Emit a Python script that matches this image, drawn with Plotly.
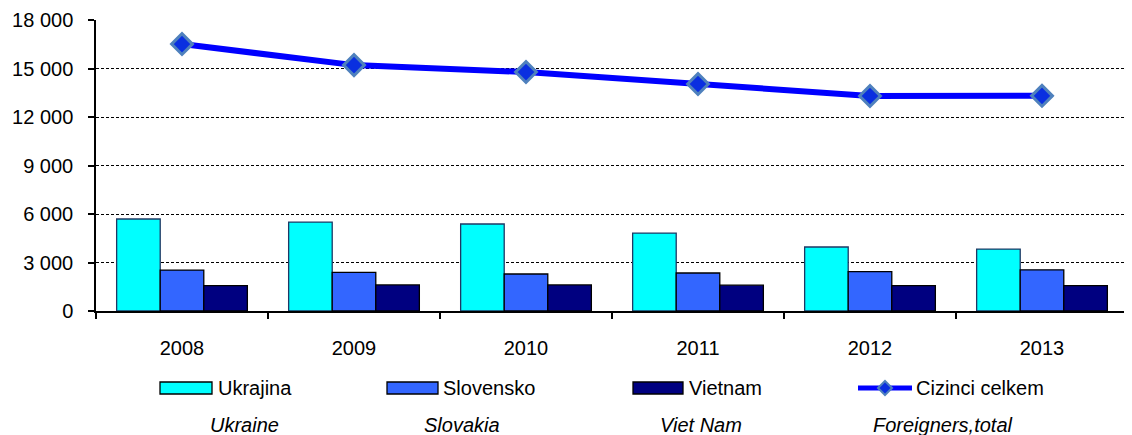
import plotly.graph_objects as go

years = ["2008", "2009", "2010", "2011", "2012", "2013"]
ukrajina = [5690, 5500, 5380, 4820, 3960, 3830]
slovensko = [2530, 2390, 2290, 2350, 2430, 2550]
vietnam = [1570, 1610, 1610, 1600, 1570, 1570]
cizinci = [16510, 15210, 14780, 14040, 13300, 13310]

names_cz = ["Ukrajina", "Slovensko", "Vietnam", "Cizinci celkem"]
names_en = ["Ukraine", "Slovakia", "Viet Nam", "Foreigners,total"]
bar_colors = ["#00FFFF", "#3366FF", "#000080"]

# page is offset by the browser's default 8px body margin
OFF = 8
W, H = 1132 - OFF, 435 - OFF
PLOT_L, PLOT_R, PLOT_T, PLOT_B = 96, 1128, 20, 311  # page pixels of plot area
L, R = PLOT_L - OFF, W - (PLOT_R - OFF)
T, B = PLOT_T - OFF, H - (PLOT_B - OFF)
PW, PH = W - L - R, H - T - B
FONT = "Arial, Liberation Sans, sans-serif"
FS = 20


def px(x):
    return (x - PLOT_L) / PW


def py(y):
    return (PLOT_B - y) / PH


fig = go.Figure()
for name, vals, col in zip(names_cz[:3], [ukrajina, slovensko, vietnam], bar_colors):
    fig.add_trace(go.Bar(
        x=years, y=vals, name=name, marker_color=col,
        marker_line=dict(color="#000000" if col != "#00FFFF" else "#1F3864", width=1.3),
        showlegend=False,
    ))
fig.add_trace(go.Scatter(
    x=years, y=cizinci, name=names_cz[3], mode="lines+markers",
    line=dict(color="#0000FF", width=6),
    marker=dict(symbol="diamond", size=16, color="#0A2FE0",
                line=dict(color="#4F81BD", width=3)),
    showlegend=False,
))

shapes = []
annotations = []
# custom legend (row of Czech names)
leg_y = 388
rect_specs = [(160, 212), (387, 438), (633, 683)]
text_x = [216, 441, 687, 914]
for (x0, x1), col in zip(rect_specs, bar_colors):
    shapes.append(dict(type="rect", xref="paper", yref="paper",
                       x0=px(x0), x1=px(x1), y0=py(leg_y + 6), y1=py(leg_y - 6),
                       fillcolor=col, line=dict(color="#000000", width=1.3)))
shapes.append(dict(type="line", xref="paper", yref="paper",
                   x0=px(858), x1=px(912), y0=py(leg_y), y1=py(leg_y),
                   line=dict(color="#0000FF", width=5)))
cx, s = 885, 7
shapes.append(dict(type="path", xref="paper", yref="paper",
                   path=f"M {px(cx)} {py(leg_y - s)} L {px(cx + s)} {py(leg_y)} L {px(cx)} {py(leg_y + s)} L {px(cx - s)} {py(leg_y)} Z",
                   fillcolor="#0A2FE0", line=dict(color="#4F81BD", width=2)))
for name, tx in zip(names_cz, text_x):
    annotations.append(dict(text=name, xref="paper", yref="paper", x=px(tx), y=py(leg_y),
                            xanchor="left", yanchor="middle", showarrow=False,
                            font=dict(family=FONT, size=FS, color="#000000")))
en_x = [244, 462, 701, 943]
for name, tx in zip(names_en, en_x):
    annotations.append(dict(text=f"<i>{name}</i>", xref="paper", yref="paper", x=px(tx), y=py(425),
                            xanchor="center", yanchor="middle", showarrow=False,
                            font=dict(family=FONT, size=FS, color="#000000")))

fig.update_layout(
    width=W, height=H,
    margin=dict(l=L, r=R, t=T, b=B, autoexpand=False),
    paper_bgcolor="white", plot_bgcolor="white",
    barmode="group", bargap=0.24, bargroupgap=0,
    separators=", ",
    font=dict(family=FONT, size=FS, color="#000000"),
    shapes=shapes, annotations=annotations,
)
fig.update_xaxes(
    type="category", tickson="boundaries", ticks="outside", ticklen=6,
    tickcolor="#000000", tickwidth=1.5, showline=True, linecolor="#000000", linewidth=1.5,
    showgrid=False, tickfont=dict(family=FONT, size=FS), ticklabelstandoff=18,
)
fig.update_yaxes(
    range=[0, 18000], dtick=3000, tickformat=",d", ticks="outside", ticklen=6,
    tickcolor="#000000", tickwidth=1.5, showline=True, linecolor="#000000", linewidth=1.5,
    showgrid=True, gridcolor="#000000", gridwidth=1.2, griddash="3px,2px",
    zeroline=False, tickfont=dict(family=FONT, size=FS), ticklabelstandoff=11,
)

fig.write_html("out.html")
